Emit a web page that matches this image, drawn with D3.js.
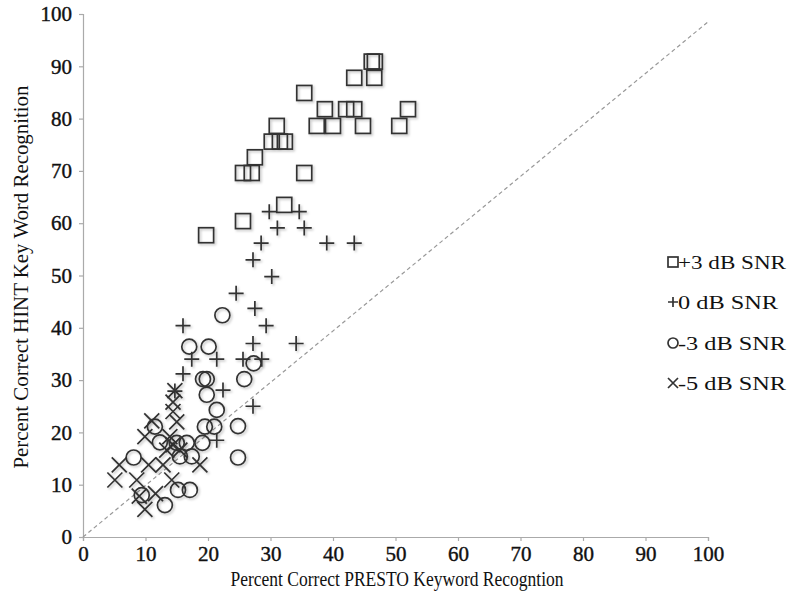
<!DOCTYPE html>
<html><head><meta charset="utf-8">
<script src="https://cdn.jsdelivr.net/npm/d3@7"></script>
<style>body{margin:0;background:#fff}svg{display:block}</style>
</head><body>
<script>
const xTicks = [0,10,20,30,40,50,60,70,80,90,100];
const yTicks = [0,10,20,30,40,50,60,70,80,90,100];
const seriesNames = ["+3 dB SNR","0 dB SNR","-3 dB SNR","-5 dB SNR"];
const plus3 = [[46.2,90.9],[46.7,90.9],[43.4,87.8],[46.6,87.8],[35.4,84.9],[38.7,81.8],[42.1,81.8],[43.4,81.8],[52.0,81.8],[37.4,78.6],[40.0,78.6],[44.8,78.6],[50.6,78.6],[31.0,78.6],[30.2,75.6],[31.5,75.6],[32.3,75.6],[27.5,72.6],[25.6,69.6],[27.0,69.6],[35.4,69.6],[32.2,63.5],[25.6,60.4],[19.7,57.7]];
const zero = [[29.8,62.2],[34.6,62.2],[31.1,59.1],[35.4,59.1],[28.5,56.2],[39.0,56.2],[43.4,56.2],[27.2,53.0],[30.2,49.8],[24.5,46.6],[27.5,43.7],[29.3,40.4],[16.0,40.4],[27.2,37.0],[34.1,37.0],[17.4,34.0],[21.4,34.0],[25.6,34.0],[28.6,34.0],[16.0,31.2],[22.4,28.1],[27.2,25.0],[21.4,18.5],[14.7,27.9]];
const minus3 = [[22.3,42.4],[17.0,36.4],[20.1,36.4],[27.3,33.2],[25.8,30.2],[19.2,30.2],[19.8,30.2],[19.8,27.2],[21.4,24.3],[19.5,21.1],[21.0,21.1],[24.8,21.2],[19.1,18.0],[24.8,15.2],[11.5,21.1],[12.3,18.1],[15.0,18.0],[16.6,18.0],[15.5,15.4],[17.4,15.4],[15.2,9.0],[17.1,9.0],[8.1,15.2],[9.4,8.0],[13.1,6.1]];
const minus5 = [[14.7,28.0],[14.4,25.8],[14.4,24.0],[11.0,22.2],[15.0,22.0],[9.9,19.2],[13.9,19.2],[14.4,17.6],[15.5,16.6],[13.4,16.6],[5.8,13.8],[10.5,13.8],[12.8,13.8],[18.7,13.8],[5.1,10.9],[8.6,10.9],[14.2,10.9],[9.0,7.8],[11.6,8.3],[9.9,5.3]];
const refLine = [[0,0],[100,98.5]];

const W=789,H=607;
const svg=d3.select("body").append("svg").attr("width",W).attr("height",H);
const defs=svg.append("defs");
const f=defs.append("filter").attr("id","sh").attr("x","-50%").attr("y","-50%").attr("width","200%").attr("height","200%");
f.append("feDropShadow").attr("dx",1.5).attr("dy",1.5).attr("stdDeviation",1.2).attr("flood-color","#000").attr("flood-opacity",0.25);

const x=d3.scaleLinear().domain([0,100]).range([83,708]);
const y=d3.scaleLinear().domain([0,100]).range([537,14]);
const font="'Liberation Serif','Times New Roman',serif";

const xa=svg.append("g").attr("transform","translate(0,537)")
  .call(d3.axisBottom(x).tickValues(xTicks).tickSize(4).tickPadding(6).tickFormat(d3.format("d")));
const ya=svg.append("g").attr("transform","translate(83,0)")
  .call(d3.axisLeft(y).tickValues(yTicks).tickSize(4).tickPadding(7).tickFormat(d3.format("d")));
[xa,ya].forEach(a=>{
  a.select(".domain").attr("stroke","#aaa").attr("stroke-width",1.2);
  a.selectAll(".tick line").attr("stroke","#aaa").attr("stroke-width",1.2);
  a.selectAll(".tick text").attr("font-family",font).attr("font-size",21).attr("fill","#111")
    .attr("stroke","#111").attr("stroke-width",0.4);
});
xa.selectAll(".tick text").attr("dy","0.66em");

svg.append("path").datum(refLine)
  .attr("d",d3.line().x(d=>x(d[0])).y(d=>y(d[1])))
  .attr("stroke","#999").attr("stroke-width",1.2).attr("stroke-dasharray","4,3").attr("fill","none");

const S=15, stroke="#333";
function drawMark(g,type,s){
  const h=s/2;
  if(type===0) g.append("rect").attr("x",-h).attr("y",-h).attr("width",s).attr("height",s).attr("fill","none").attr("stroke",stroke).attr("stroke-width",1.7);
  else if(type===1) g.append("path").attr("d",`M${-h},0H${h}M0,${-h}V${h}`).attr("stroke",stroke).attr("stroke-width",1.7).attr("fill","none");
  else if(type===2) g.append("circle").attr("r",h).attr("fill","none").attr("stroke",stroke).attr("stroke-width",1.7);
  else g.append("path").attr("d",`M${-h},${-h}L${h},${h}M${h},${-h}L${-h},${h}`).attr("stroke",stroke).attr("stroke-width",1.7).attr("fill","none");
}
const allSeries=[minus5,minus3,zero,plus3];
const types=[3,2,1,0];
allSeries.forEach((ser,i)=>{
  const g=svg.append("g").attr("filter","url(#sh)");
  ser.forEach(d=>{
    const m=g.append("g").attr("transform",`translate(${x(d[0])},${y(d[1])})`);
    drawMark(m,types[i],S);
  });
});

// legend
const ly=[262,302,343,383];
seriesNames.forEach((n,i)=>{
  const m=svg.append("g").attr("transform",`translate(673,${ly[i]})`);
  drawMark(m,i,10);
  const t=svg.append("text").attr("x",678).attr("y",ly[i]+7).attr("font-family",font).attr("font-size",19).attr("fill","#111").text(n);
  t.attr("textLength",(n.length===9?108:100)).attr("lengthAdjust","spacingAndGlyphs");
});

svg.append("text").attr("x",397).attr("y",586).attr("text-anchor","middle").attr("font-family",font).attr("font-size",20).attr("fill","#111")
  .attr("textLength",333).attr("lengthAdjust","spacingAndGlyphs").text("Percent Correct PRESTO Keyword Recogntion");
svg.append("text").attr("transform","translate(28,277) rotate(-90)").attr("text-anchor","middle").attr("font-family",font).attr("font-size",20).attr("fill","#111")
  .attr("textLength",383).attr("lengthAdjust","spacingAndGlyphs").text("Percent Correct HINT Key Word Recognition");
</script>
</body></html>
